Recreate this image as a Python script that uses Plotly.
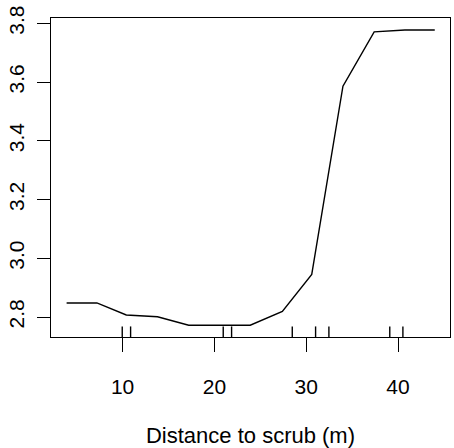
import plotly.graph_objects as go

# Partial dependence data
distance = [3.9, 7.2, 10.4, 13.8, 17.2, 23.9, 27.4, 30.6, 34.0, 37.4, 40.75, 44.0]
response = [2.848, 2.848, 2.807, 2.801, 2.772, 2.772, 2.819, 2.945, 3.586, 3.771, 3.777, 3.777]

# Rug (observed distances)
rug_x = [9.96, 10.87, 20.96, 21.87, 28.48, 31.02, 32.47, 39.1, 40.53]

x_ticks = [10, 20, 30, 40]
y_ticks = [2.8, 3.0, 3.2, 3.4, 3.6, 3.8]

x_range = [2.2, 45.66]
y_range = [2.732, 3.818]
rug_len = 0.036

fig = go.Figure()
fig.add_trace(go.Scatter(x=distance, y=response, mode="lines",
                         line=dict(color="black", width=1.4), showlegend=False,
                         hoverinfo="skip"))

rx, ry = [], []
for v in rug_x:
    rx += [v, v, None]
    ry += [y_range[0], y_range[0] + rug_len, None]
fig.add_trace(go.Scatter(x=rx, y=ry, mode="lines",
                         line=dict(color="black", width=1.4), showlegend=False,
                         hoverinfo="skip"))

font = dict(family="Liberation Sans, Arial, sans-serif", color="black")
fig.update_layout(
    width=454, height=448,
    margin=dict(l=51, r=4, t=18, b=111),
    paper_bgcolor="white", plot_bgcolor="white",
    font=dict(**font, size=21),
    xaxis=dict(range=x_range, tickvals=x_ticks, ticks="outside", ticklen=14,
               tickwidth=1.2, tickcolor="black", showline=True, linecolor="black",
               linewidth=1.2, mirror=True, showgrid=False, zeroline=False,
               ticklabelstandoff=17, automargin=False,
               title=dict(text="Distance to scrub (m)", font=dict(size=22), standoff=30)),
    yaxis=dict(range=y_range, tickvals=y_ticks, ticktext=["2.8", "3.0", "3.2", "3.4", "3.6", "3.8"],
               ticks="outside", ticklen=13, tickangle=-90,
               tickwidth=1.2, tickcolor="black", showline=True, linecolor="black",
               linewidth=1.2, mirror=True, showgrid=False, zeroline=False,
               ticklabelstandoff=5, automargin=False),
)

fig.write_html("out.html")
